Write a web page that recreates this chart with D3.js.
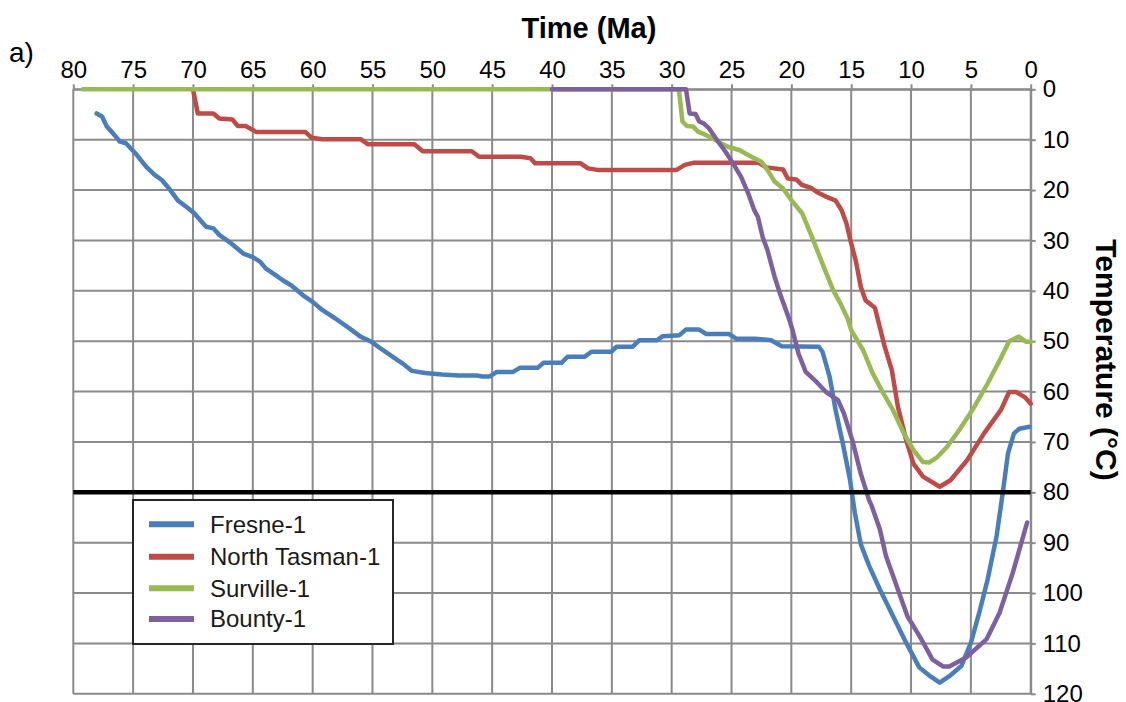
<!DOCTYPE html>
<html>
<head>
<meta charset="utf-8">
<script src="https://cdn.jsdelivr.net/npm/d3@7"></script>
<style>
  body { margin: 0; background: #fff; }
  svg { font-family: "Liberation Sans", Arial, sans-serif; }
  .tick text { fill: #000; }
</style>
</head>
<body>
<div id="chart"></div>
<script>
// Series: [age (Ma), temperature (°C)]
var seriesNames = ["Fresne-1", "North Tasman-1", "Surville-1", "Bounty-1"];
var seriesColors = ["#4a7ebb", "#be4b48", "#98b954", "#7d60a0"];

var fresne = [[78.05,4.8],[77.6,5.4],[77.2,7.4],[76.7,8.7],[76.1,10.4],[75.6,10.7],[74.7,13.0],[73.9,15.4],
  [73.2,17.0],[72.6,18.0],[71.9,20.0],[71.25,22.1],[70.4,23.6],[69.9,24.6],[68.9,27.3],[68.3,27.6],[67.8,28.9],
  [66.8,30.6],[65.8,32.6],[65.1,33.2],[64.4,34.2],[63.9,35.6],[63.1,36.9],[62.5,37.9],[61.8,38.9],[60.8,40.9],
  [60.0,42.2],[59.2,43.8],[58.1,45.5],[56.9,47.5],[56.0,49.1],[55.1,50.1],[54.3,51.5],[53.3,53.1],[52.5,54.4],
  [51.7,55.9],[50.6,56.3],[49.2,56.6],[47.8,56.8],[46.3,56.8],[45.8,57.0],[45.2,57.0],[44.6,56.1],[43.25,56.1],
  [42.7,55.3],[41.2,55.3],[40.7,54.3],[39.2,54.3],[38.7,53.1],[37.3,53.1],[36.7,52.1],[35.05,52.1],[34.6,51.1],
  [33.25,51.1],[32.7,49.8],[31.2,49.8],[30.75,49.0],[29.35,48.8],[28.8,47.7],[27.7,47.7],[27.1,48.6],[25.2,48.6],
  [24.6,49.5],[23.0,49.5],[21.7,49.8],[20.8,51.0],[17.7,51.1],[17.4,52.1],[16.8,57.1],[16.3,63.7],[15.7,70.3],
  [15.1,77.5],[14.7,84.0],[14.2,90.3],[13.5,94.6],[12.6,99.3],[11.5,104.6],[10.4,109.9],[9.3,114.8],[8.4,116.5],
  [7.6,117.8],[6.8,116.5],[5.8,114.5],[5.0,109.9],[4.3,103.9],[3.6,97.3],[2.85,88.7],[2.3,79.5],[1.9,72.3],
  [1.4,68.3],[0.95,67.4],[0.1,67.0]];

var northTasman = [[70,0],[69.6,4.8],[68.3,4.8],[67.8,5.8],[66.7,6.0],[66.25,7.3],[65.6,7.3],[64.7,8.5],[60.6,8.5],
  [60.1,9.6],[59.2,9.9],[56.0,9.9],[55.4,10.9],[51.5,10.9],[50.8,12.3],[46.7,12.3],[46.1,13.4],[42.6,13.4],
  [41.8,13.7],[41.4,14.7],[37.6,14.7],[37.0,15.7],[36.2,16.0],[29.6,16.0],[28.9,15.0],[28.2,14.6],[22.7,14.6],
  [22.1,15.5],[20.7,15.9],[20.3,17.7],[19.6,17.9],[19.1,19.0],[18.4,19.5],[17.8,20.5],[17.1,21.3],[16.3,22.1],
  [15.8,24.0],[15.4,26.6],[15.0,30.6],[14.6,34.2],[14.2,39.2],[13.8,41.9],[13.1,43.2],[13.0,43.5],[12.2,51.1],
  [11.6,55.8],[11.1,63.0],[10.4,69.7],[9.8,74.3],[9.0,76.9],[7.6,78.9],[6.7,77.6],[5.3,73.6],[3.9,68.3],
  [2.5,63.7],[1.8,60.1],[1.2,60.1],[0.5,61.1],[0,62.4]];

var surville = [[79.2,0],[29.4,0],[29.1,6.4],[28.7,7.3],[28.2,7.4],[27.8,8.4],[27.3,8.9],[26.6,9.7],[25.9,10.7],
  [25.3,11.4],[24.3,12.1],[23.8,12.8],[23.1,13.7],[22.5,14.4],[22.0,16.0],[21.4,18.3],[20.7,19.7],[20.0,22.0],
  [19.1,24.6],[18.4,28.6],[17.4,34.6],[16.5,39.9],[15.9,42.5],[15.3,45.5],[15.0,47.8],[14.0,51.8],[13.2,56.4],
  [12.3,60.4],[11.5,63.7],[10.6,68.3],[9.8,71.6],[9.0,74.0],[8.5,74.1],[7.8,73.0],[7.0,71.0],[5.9,67.4],
  [4.7,63.0],[3.6,58.4],[2.5,53.4],[1.8,50.0],[1.0,49.1],[0.4,50.1],[0,50.1]];

var bounty = [[40,0],[28.8,0],[28.5,4.8],[28.0,4.9],[27.7,6.4],[27.3,6.8],[26.9,7.7],[26.2,10.1],[25.5,12.4],
  [24.8,15.0],[24.2,17.4],[23.6,20.7],[23.1,24.0],[22.8,25.3],[22.4,29.3],[22.0,31.9],[21.4,37.2],[20.9,40.9],
  [20.2,45.5],[19.9,47.8],[19.4,52.5],[18.8,56.1],[17.9,58.1],[17.1,60.1],[16.1,61.7],[15.6,64.4],[14.9,69.7],
  [14.2,76.3],[13.5,81.6],[13.3,82.6],[12.6,87.4],[12.1,92.6],[11.2,98.6],[10.3,104.6],[9.3,108.5],[8.2,113.2],
  [7.3,114.6],[6.8,114.6],[5.4,112.8],[3.7,109.2],[2.6,103.9],[1.5,96.0],[0.3,86.0]];

var allSeries = [fresne, northTasman, surville, bounty];

var xTicks = [80, 75, 70, 65, 60, 55, 50, 45, 40, 35, 30, 25, 20, 15, 10, 5, 0];
var yTicks = [0, 10, 20, 30, 40, 50, 60, 70, 80, 90, 100, 110, 120];
var thresholdTemp = 80;

// SVG area
var svgWidth = 1126;
var svgHeight = 702;
var plotLeft = 73.3, plotRight = 1030.7, plotTop = 89.3, plotBottom = 693.8;

var svg = d3.select("#chart")
    .append("svg")
    .attr("width", svgWidth)
    .attr("height", svgHeight);

// Scales (time runs backwards, temperature increases downward)
var xScale = d3.scaleLinear().domain([80, 0]).range([plotLeft, plotRight]);
var yScale = d3.scaleLinear().domain([0, 120]).range([plotTop, plotBottom]);

var gridColor = "#8a8a8a";

// Gridlines
svg.append("g").selectAll("line")
    .data(xTicks)
    .enter()
    .append("line")
    .attr("x1", d => xScale(d)).attr("x2", d => xScale(d))
    .attr("y1", plotTop).attr("y2", plotBottom)
    .attr("stroke", gridColor).attr("stroke-width", 2);

svg.append("g").selectAll("line")
    .data(yTicks)
    .enter()
    .append("line")
    .attr("x1", plotLeft).attr("x2", plotRight)
    .attr("y1", d => yScale(d)).attr("y2", d => yScale(d))
    .attr("stroke", gridColor).attr("stroke-width", 2);

// Top axis
var topAxis = svg.append("g")
    .attr("transform", `translate(0, ${plotTop})`)
    .call(d3.axisTop(xScale).tickValues(xTicks).tickSizeInner(5).tickSizeOuter(0).tickPadding(6));
topAxis.selectAll("text").style("font-size", "24px");

// Right axis
var rightAxis = svg.append("g")
    .attr("transform", `translate(${plotRight}, 0)`)
    .call(d3.axisRight(yScale).tickValues(yTicks).tickSizeInner(5).tickSizeOuter(0).tickPadding(7));
rightAxis.selectAll("text").style("font-size", "24px");

[topAxis, rightAxis].forEach(function (ax) {
    ax.select(".domain").attr("stroke", gridColor).attr("stroke-width", 2);
    ax.selectAll(".tick line").attr("stroke", gridColor).attr("stroke-width", 2);
});

// Series lines
var line = d3.line()
    .x(d => xScale(d[0]))
    .y(d => yScale(d[1]));

svg.append("g").selectAll("path")
    .data(allSeries)
    .enter()
    .append("path")
    .attr("d", line)
    .attr("fill", "none")
    .attr("stroke", (d, i) => seriesColors[i])
    .attr("stroke-width", 4.5)
    .attr("stroke-linejoin", "round")
    .attr("stroke-linecap", "round");

// 80 °C threshold line
svg.append("line")
    .attr("x1", xScale(80)).attr("x2", xScale(0))
    .attr("y1", yScale(thresholdTemp)).attr("y2", yScale(thresholdTemp))
    .attr("stroke", "#000")
    .attr("stroke-width", 4.5);

// Axis titles
svg.append("text")
    .attr("x", 589)
    .attr("y", 38)
    .attr("text-anchor", "middle")
    .style("font-size", "29px")
    .style("font-weight", "bold")
    .text("Time (Ma)");

svg.append("text")
    .attr("transform", "translate(1096, 360) rotate(90)")
    .attr("text-anchor", "middle")
    .style("font-size", "30px")
    .style("font-weight", "bold")
    .text("Temperature (°C)");

svg.append("text")
    .attr("x", 9)
    .attr("y", 62)
    .style("font-size", "28px")
    .text("a)");

// Legend
var legend = svg.append("g");
legend.append("rect")
    .attr("x", 133).attr("y", 500)
    .attr("width", 260).attr("height", 144)
    .attr("fill", "#fff")
    .attr("stroke", "#262626")
    .attr("stroke-width", 2);

var legendRows = [524.3, 556.7, 588.3, 619];
seriesNames.forEach(function (name, i) {
    legend.append("line")
        .attr("x1", 149).attr("x2", 194)
        .attr("y1", legendRows[i]).attr("y2", legendRows[i])
        .attr("stroke", seriesColors[i])
        .attr("stroke-width", 6);
    legend.append("text")
        .attr("x", 210)
        .attr("y", legendRows[i])
        .attr("dy", "0.35em")
        .style("font-size", "24px")
        .attr("fill", "#1a1a1a")
        .text(name);
});
</script>
</body>
</html>
